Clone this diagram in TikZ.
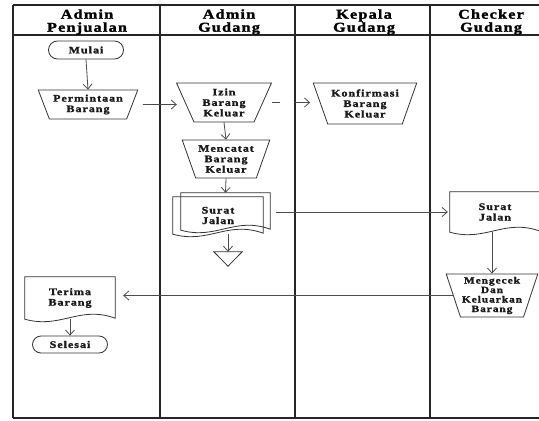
\documentclass[tikz,border=0pt]{standalone}
\usepackage{fontspec}
\setmainfont{Liberation Serif}
\newfontfamily\lanefont[LetterSpace=9, FakeStretch=1.2, FakeBold=1.6]{Liberation Serif Bold}
\newfontfamily\boxfont[LetterSpace=10, FakeStretch=1.2, FakeBold=1.6]{Liberation Serif Bold}
\usetikzlibrary{shapes.geometric,shapes.misc,arrows.meta,calc}

% document symbol: straight top and sides, wavy bottom edge
\newcommand\docoutline[1]{%
  \draw[outl] (#1.north west) -- (#1.north east) -- ($(#1.south east)+(0,-1)$)
    .. controls ($(#1.south west)!0.6!(#1.south east)+(0,-14)$)
       and ($(#1.south west)!0.4!(#1.south east)+(0,10)$) .. (#1.south west) -- cycle;}

\begin{document}
\begin{tikzpicture}[x=1pt,y=-1pt,
  lane/.style={draw=black!85, line width=1.3pt},
  head/.style={font={\lanefont\fontsize{13.5}{13}\selectfont}, align=center, inner sep=0pt},
  box/.style={font={\boxfont\fontsize{10}{10.5}\selectfont}, align=center, text=black!90},
  outl/.style={draw=black!80, line width=0.8pt},
  manual/.style={box, outl, trapezium, shape border rotate=180, trapezium stretches=true, inner sep=0pt},
  term/.style={box, outl, rounded rectangle, inner sep=0pt},
  docbox/.style={box, rectangle, inner sep=0pt},
  flow/.style={draw=black!70, line width=0.8pt, -{Straight Barb[length=5pt,width=9pt]}}
]
\useasboundingbox (0,0) rectangle (539,421);
\fill[white] (0,0) rectangle (539,421);
\clip (0,0) rectangle (539,421);

% swimlane frame
\draw[lane] (13,5) -- (545,5);
\draw[lane] (13,35) -- (545,35);
\draw[lane] (13,418) -- (545,418);
\draw[lane] (13,5) -- (13,418);
\foreach \x in {160,295,430} \draw[lane] (\x,5) -- (\x,418);

% lane headers
\node[head] (h1) at (87,22) {Admin\\Penjualan};
\node[head] (h2) at (229,22) {Admin\\Gudang};
\node[head] (h3) at (364,22) {Kepala\\Gudang};
\node[head] (h4) at (491,22) {Checker\\Gudang};

% flow symbols
\node[term, minimum width=75pt, minimum height=18pt] (mulai) at (86,50) {Mulai};
\node[manual, trapezium left angle=63, trapezium right angle=63,
      minimum width=100pt, minimum height=29pt] (minta) at (88,104.5) {Permintaan\\Barang};
\node[manual, trapezium left angle=66, trapezium right angle=66,
      minimum width=95pt, minimum height=39pt] (izin) at (224,102.5) {Izin\\Barang\\Keluar};
\node[manual, trapezium left angle=65, trapezium right angle=65,
      minimum width=104pt, minimum height=41pt] (konf) at (365,103.5) {Konfirmasi\\Barang\\Keluar};
\node[manual, trapezium left angle=66, trapezium right angle=66,
      minimum width=88pt, minimum height=38pt] (catat) at (226,159) {Mencatat\\Barang\\Keluar};
\node[docbox, minimum width=89pt, minimum height=37pt] (sjb) at (225.5,211.5) {};
\node[docbox, minimum width=90pt, minimum height=37pt] (sja) at (218,215.5) {Surat\\Jalan};
\node[minimum width=28pt, minimum height=14pt, inner sep=0pt] (arsip) at (228,259) {};
\node[docbox, minimum width=90pt, minimum height=40pt] (sjc) at (495,212) {Surat\\Jalan};
\node[manual, trapezium left angle=70, trapezium right angle=70,
      minimum width=92pt, minimum height=43pt,
      font={\boxfont\fontsize{9.5}{9.5}\selectfont}] (cek) at (492,295.5) {Mengecek\\Dan\\Keluarkan\\Barang};
\node[docbox, minimum width=90pt, minimum height=42pt] (terima) at (70,298) {Terima\\Barang};
\node[term, minimum width=75pt, minimum height=17pt] (selesai) at (70,344.5) {Selesai};

% outlines of the document symbols and the storage triangle
\docoutline{sjb}
\docoutline{sja}
\docoutline{sjc}
\docoutline{terima}
\draw[outl] (arsip.north west) -- (arsip.north east) -- (arsip.south) -- cycle;

% connectors
\draw[flow] (mulai.south) -- (minta.90);
\draw[flow, shorten <=10pt, shorten >=8pt] (minta.0) -- (minta.0 -| izin.180);
\draw[flow, dash pattern=on 8pt off 15pt on 40pt, shorten <=9pt, shorten >=10pt] (izin.0) -- (izin.0 -| konf.180);
\draw[flow] (izin.270) -- (catat.90);
\draw[flow] (catat.270) -- (sjb.north);
\draw[flow] (sja.south -| arsip.north) -- (arsip.north);
\draw[flow, shorten <=6pt, shorten >=2pt] (sjb.east |- sjc.west) -- (sjc.west);
\draw[flow] (sjc.south -| cek.90) -- (cek.90);
\draw[flow, shorten >=8pt] (cek.180) -- (cek.180 -| terima.east);
\draw[flow] (terima.south) -- (selesai.north);
\end{tikzpicture}
\end{document}
